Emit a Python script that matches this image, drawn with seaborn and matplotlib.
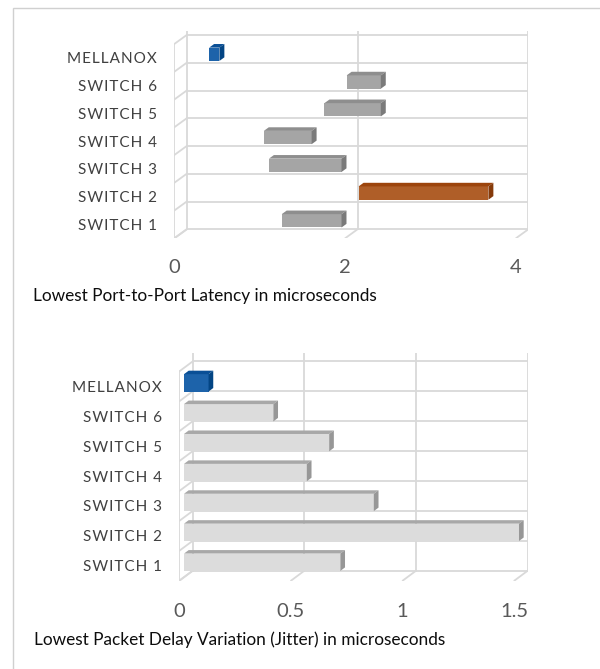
import numpy as np
import pandas as pd
import matplotlib
matplotlib.use("Agg")
import matplotlib.pyplot as plt
from matplotlib.patches import Polygon, Rectangle
import seaborn as sns

# categories, top to bottom
switches = ["MELLANOX", "SWITCH 6", "SWITCH 5", "SWITCH 4", "SWITCH 3", "SWITCH 2", "SWITCH 1"]

# port-to-port latency ranges (microseconds)
latency_lo = [0.35, 1.96, 1.70, 0.99, 1.05, 2.10, 1.20]
latency_hi = [0.47, 2.36, 2.36, 1.55, 1.90, 3.62, 1.90]
latency_ticks = [0, 2, 4]
latency_ticklabels = ["0", "2", "4"]

# packet delay variation (microseconds)
jitter = [0.11, 0.40, 0.65, 0.55, 0.85, 1.50, 0.70]
jitter_ticks = [0, 0.5, 1, 1.5]
jitter_ticklabels = ["0", "0.5", "1", "1.5"]

titles = ["Lowest Port-to-Port Latency in microseconds",
          "Lowest Packet Delay Variation (Jitter) in microseconds"]

sns.set_style("white")
plt.rcParams["font.family"] = ["Lato", "DejaVu Sans"]

W, H = 600, 669
fig = plt.figure(figsize=(W / 100, H / 100), dpi=100)
fig.patches.append(Rectangle((13 / W, -0.1), 2, 1 - 8 / H + 0.1, transform=fig.transFigure,
                             fill=False, edgecolor="#d0d0d0", lw=1))

GRID = "#d9d9d9"


def spaced(s):
    return "\u200a".join(s)


def chart(geo, ends, starts, xmax, ticks, ticklabels, face, top, side, width, bar_depth, xpad):
    # geo: back wall pixels + depth offset in pixels
    x0, x1, yt, yb, ytop_px, dxp, dyp = geo
    sx = (x1 - x0) / xmax
    sy = (yb - yt) / 7
    ddx = dxp / sx
    ddy = dyp / sy
    ytop = -0.5 - (yt - ytop_px) / sy
    ax = fig.add_axes([(x0 + dxp) / W, 1 - (yb + dyp) / H, (x1 - x0 - dxp) / W, (yb + dyp - ytop_px) / H])

    df = pd.DataFrame({"name": switches, "end": ends})
    sns.barplot(data=df, x="end", y="name", hue="name", palette=face, orient="h",
                width=width, legend=False, ax=ax, zorder=3, linewidth=0)
    ax.set_xlim(ddx, xmax)
    ax.set_ylim(6.5 + ddy, ytop)

    # back wall, left wall and floor lines
    lw = 1.3
    for t in ticks:
        ax.plot([t, t], [6.5, ytop], color=GRID, lw=lw, zorder=1)
        ax.plot([t, t + ddx], [6.5, 6.5 + ddy], color=GRID, lw=lw, zorder=1)
    for k in range(8):
        ax.plot([0, xmax], [k - 0.5, k - 0.5], color=GRID, lw=lw, zorder=1)
        ax.plot([0, ddx], [k - 0.5, k - 0.5 + ddy], color=GRID, lw=lw, zorder=1)
    ax.plot([ddx, ddx], [-0.5 + ddy, 6.5 + ddy], color=GRID, lw=lw, zorder=1)

    # move bars to their depth and add top / side faces
    fpos = 1 - bar_depth
    bx, by = -bar_depth * ddx, -bar_depth * ddy
    for p in list(ax.patches):
        i = int(round(p.get_y() + p.get_height() / 2))
        start = starts[i] if starts is not None else 0
        p.set_x(start + fpos * ddx)
        p.set_width(ends[i] - start)
        p.set_y(p.get_y() + fpos * ddy)
        xl, xr = p.get_x(), p.get_x() + p.get_width()
        y_t, y_b = p.get_y(), p.get_y() + p.get_height()
        name = switches[i]
        ax.add_patch(Polygon([(xl, y_t), (xr, y_t), (xr + bx, y_t + by), (xl + bx, y_t + by)],
                             closed=True, facecolor=top[name], edgecolor="none", zorder=3))
        ax.add_patch(Polygon([(xr, y_t), (xr, y_b), (xr + bx, y_b + by), (xr + bx, y_t + by)],
                             closed=True, facecolor=side[name], edgecolor="none", zorder=3))

    ax.set_yticks(np.arange(7) + ddy, [spaced(s) for s in switches])
    ax.set_xticks(np.array(ticks) + ddx, ticklabels)
    ax.tick_params(axis="y", length=0, pad=12.7, labelsize=11, labelcolor="#404040")
    ax.tick_params(axis="x", length=0, pad=xpad, labelsize=14.5, labelcolor="#595959")
    ax.set_xlabel("")
    ax.set_ylabel("")
    for s in ax.spines.values():
        s.set_visible(False)
    return ax


def cols(default, special):
    return {s: special.get(s, default) for s in switches}


chart((186.7, 528.3, 35.0, 229.3, 30.8, -12.4, 9.0),
      latency_hi, latency_lo, 4, latency_ticks, latency_ticklabels,
      cols("#a5a5a5", {"MELLANOX": "#0563c1", "SWITCH 2": "#c55a11"}),
      cols("#8e8e8e", {"MELLANOX": "#0a4f96", "SWITCH 2": "#9c440c"}),
      cols("#7a7a7a", {"MELLANOX": "#034584", "SWITCH 2": "#853a0a"}),
      0.48, 0.4, 15)

chart((192.7, 527.7, 361.4, 570.7, 353.3, -13.4, 10.0),
      jitter, None, 1.5, jitter_ticks, jitter_ticklabels,
      cols("#dcdcdc", {"MELLANOX": "#0563c1"}),
      cols("#a8a8a8", {"MELLANOX": "#0a4f96"}),
      cols("#979797", {"MELLANOX": "#034584"}),
      0.58, 0.35, 16)

fig.text(33 / W, 1 - 296 / H, titles[0], fontsize=12.4, color="#0d0d0d", va="center")
fig.text(34 / W, 1 - 640 / H, titles[1], fontsize=12.4, color="#0d0d0d", va="center")

fig.savefig("out.png", dpi=100)
